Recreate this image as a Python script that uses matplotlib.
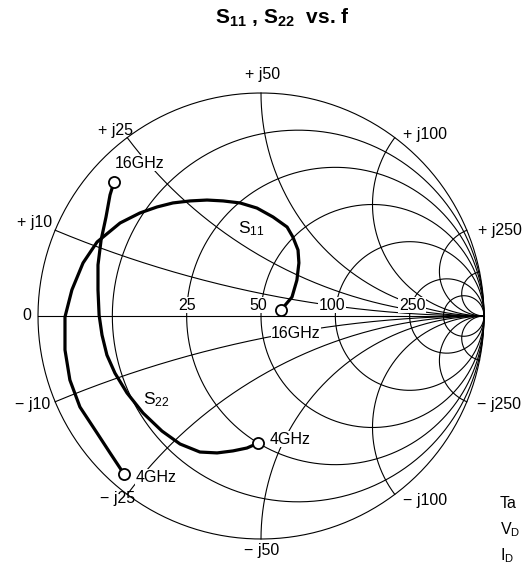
import numpy as np
import matplotlib
matplotlib.use('Agg')
import matplotlib.pyplot as plt

plt.rcParams['font.family'] = ['Liberation Sans', 'DejaVu Sans']
plt.rcParams['mathtext.fontset'] = 'custom'
plt.rcParams['mathtext.rm'] = 'Liberation Sans'
plt.rcParams['mathtext.it'] = 'Liberation Sans:italic'
plt.rcParams['mathtext.bf'] = 'Liberation Sans:bold'

# Smith chart grid (normalised to 50 ohm)
R_CIRCLES = [0.2, 0.5, 1, 2, 5, 10]
X_ARCS = [0.2, 0.5, 1, 2, 5, 10]
R_LABELS = ['25', '50', '100', '250']
X_LABELS = ['j10', 'j25', 'j50', 'j100', 'j250']

# reflection coefficient, 16GHz -> 4GHz
S11_RE = [0.090, 0.139, 0.161, 0.170, 0.166, 0.143, 0.117, 0.054, -0.018, -0.094,
          -0.170, -0.242, -0.318, -0.395, -0.466, -0.543, -0.632, -0.735, -0.798,
          -0.848, -0.879, -0.879, -0.857, -0.812, -0.735, -0.677, -0.632, -0.614]
S11_IM = [0.027, 0.085, 0.161, 0.238, 0.296, 0.354, 0.399, 0.444, 0.484, 0.507,
          0.516, 0.520, 0.516, 0.507, 0.489, 0.462, 0.417, 0.332, 0.238,
          0.117, -0.004, -0.152, -0.287, -0.408, -0.525, -0.614, -0.682, -0.709]

S22_RE = [-0.659, -0.677, -0.695, -0.717, -0.731, -0.731, -0.726, -0.713, -0.691,
          -0.655, -0.601, -0.529, -0.444, -0.363, -0.274, -0.197, -0.126, -0.063, -0.013]
S22_IM = [0.601, 0.543, 0.444, 0.341, 0.229, 0.117, 0.004, -0.085, -0.175,
          -0.256, -0.345, -0.435, -0.516, -0.574, -0.610, -0.614, -0.605, -0.592, -0.570]

# pixel layout of the chart
CX, CY, RAD = 261, 316, 223
W, H = 525, 573


def P(x, y):
    """pixel position -> chart coordinates"""
    return (x - CX) / RAD, (CY - y) / RAD


fig = plt.figure(figsize=(W / 100, H / 100), dpi=100)
ax = fig.add_axes([0, 0, 1, 1])
ax.set_xlim(-CX / RAD, (W - CX) / RAD)
ax.set_ylim((CY - H) / RAD, CY / RAD)
ax.axis('off')

GRID = dict(color='black', lw=0.8, zorder=2)
t = np.linspace(0, 2 * np.pi, 500)
ax.plot(np.cos(t), np.sin(t), **GRID)
ax.plot([-1, 1], [0, 0], **GRID)
for r in R_CIRCLES:
    c, rr = r / (1 + r), 1 / (1 + r)
    ax.plot(c + rr * np.cos(t), rr * np.sin(t), **GRID)
rs = np.concatenate([[0], np.logspace(-3, 4, 800)])
for x in X_ARCS:
    for s in (1, -1):
        z = rs + 1j * s * x
        g = (z - 1) / (z + 1)
        ax.plot(g.real, g.imag, **GRID)

# data curves
CURVE = dict(color='black', lw=2.3, zorder=4, solid_capstyle='round')
ax.plot(S11_RE, S11_IM, **CURVE)
ax.plot(S22_RE, S22_IM, **CURVE)
for xs, ys in ((S11_RE, S11_IM), (S22_RE, S22_IM)):
    ax.plot([xs[0], xs[-1]], [ys[0], ys[-1]], 'o', ms=8, mfc='white', mec='black',
            mew=1.3, zorder=5)

FS = 11.5
WB = dict(facecolor='white', edgecolor='none', pad=0.5)

# resistance labels, just above the real axis
R_POS = [187, 258, 332, 412]
for lab, px in zip(R_LABELS, R_POS):
    ax.text(*P(px, 305), lab, fontsize=FS, ha='center', va='center', bbox=WB, zorder=3)
ax.text(*P(27, 316), '0', fontsize=FS, ha='center', va='center')

# reactance labels, outside the circle
X_POS_TOP = [(35, 222), (115, 130), (263, 75), (425, 134), (500, 230)]
X_POS_BOT = [(33, 405), (118, 498), (262, 550), (425, 500), (499, 405)]
for lab, (px, py) in zip(X_LABELS, X_POS_TOP):
    ax.text(*P(px, py), '+ ' + lab, fontsize=FS, ha='center', va='center')
for lab, (px, py) in zip(X_LABELS, X_POS_BOT):
    ax.text(*P(px, py), '\u2212 ' + lab, fontsize=FS, ha='center', va='center')

# curve annotations
ax.text(*P(140, 163), '16GHz', fontsize=FS, ha='center', va='center', bbox=WB, zorder=3)
ax.text(*P(296, 333), '16GHz', fontsize=FS, ha='center', va='center', bbox=WB, zorder=3)
ax.text(*P(136, 477), '4GHz', fontsize=FS, ha='left', va='center', bbox=WB, zorder=3)
ax.text(*P(270, 439), '4GHz', fontsize=FS, ha='left', va='center', bbox=WB, zorder=3)
ax.text(*P(251, 229), 'S$_{11}$', fontsize=FS + 1, ha='center', va='center', bbox=WB, zorder=3)
ax.text(*P(156, 400), 'S$_{22}$', fontsize=FS + 1, ha='center', va='center', bbox=WB, zorder=3)

# conditions block (only its start is visible)
ax.text(*P(500, 503), 'Ta', fontsize=FS, ha='left', va='center')
ax.text(*P(500, 530), r'V$_\mathrm{D}$', fontsize=FS, ha='left', va='center')
ax.text(*P(500, 556), r'I$_\mathrm{D}$', fontsize=FS, ha='left', va='center')

ax.text(*P(282, 18), r'S$_\mathbf{11}$ , S$_\mathbf{22}$  vs. f', fontsize=15,
        fontweight='bold', ha='center', va='center')

fig.savefig('out.png', dpi=100)
